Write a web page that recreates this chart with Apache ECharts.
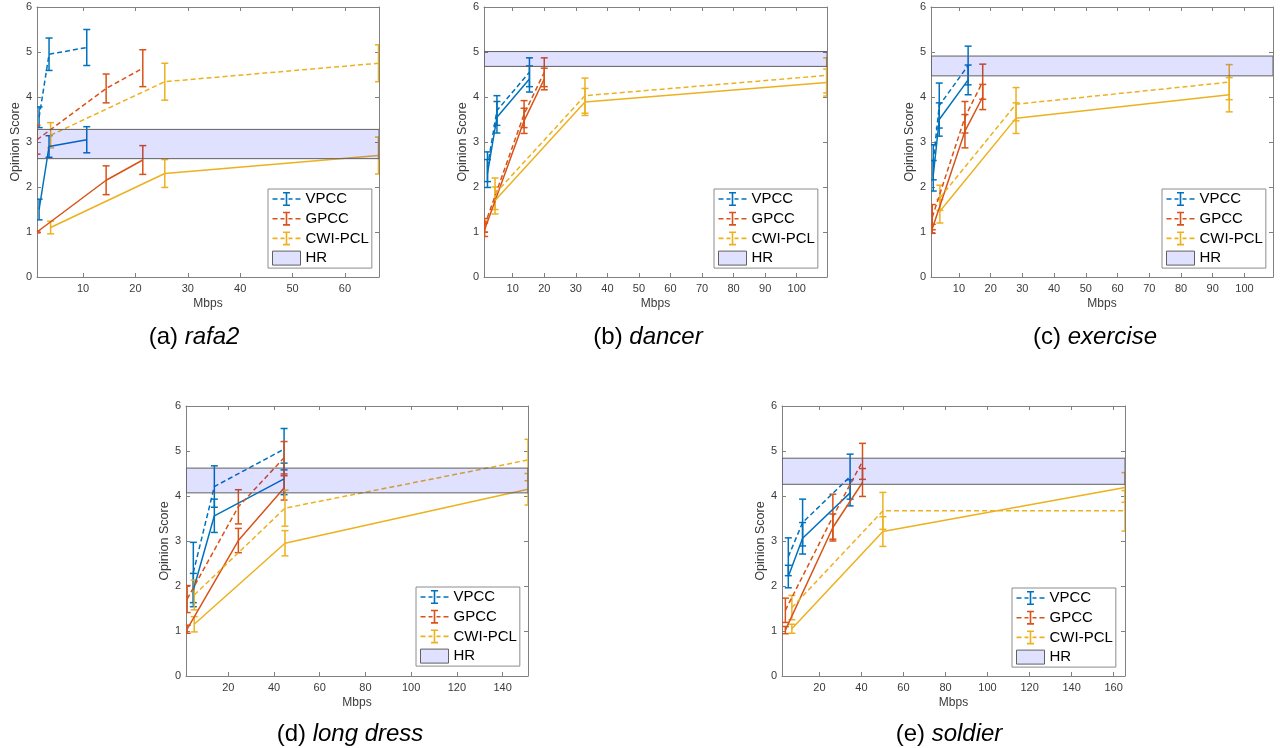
<!DOCTYPE html>
<html><head><meta charset="utf-8">
<script src="https://cdn.jsdelivr.net/npm/echarts@6/dist/echarts.min.js"></script>
<style>html,body{margin:0;padding:0;background:#fff}#c{width:1283px;height:748px}</style>
</head><body><div id="c"></div>
<script>
// ---------------- DATA ----------------
const codecNames = ['VPCC', 'GPCC', 'CWI-PCL'];
const yTicks = [0, 1, 2, 3, 4, 5, 6];

// (a) rafa2  — rows: VPCC, GPCC, CWI-PCL
const rafa2X = [[1.6, 3.5, 10.7], [1.2, 14.4, 21.4], [3.8, 25.6, 66.4]];
const rafa2Dashed = [[3.55, 4.95, 5.10], [3.05, 4.19, 4.64], [3.15, 4.34, 4.75]];
const rafa2DashedErr = [[0.23, 0.36, 0.40], [0.32, 0.32, 0.41], [0.28, 0.41, 0.41]];
const rafa2Solid = [[1.50, 2.90, 3.05], [1.00, 2.15, 2.60], [1.10, 2.30, 2.70]];
const rafa2SolidErr = [[0.23, 0.24, 0.29], [0.02, 0.32, 0.32], [0.14, 0.31, 0.41]];
const rafa2HR = [2.63, 3.28];
const rafa2XRange = [1.2, 66.5];
const rafa2XTicks = [10, 20, 30, 40, 50, 60];

// (b) dancer
const dancerX = [[2.0, 5.0, 15.3], [1.1, 13.6, 20.0], [4.4, 32.9, 109.5]];
const dancerDashed = [[2.45, 3.70, 4.55], [1.15, 3.62, 4.55], [1.85, 4.03, 4.48]];
const dancerDashedErr = [[0.33, 0.33, 0.32], [0.15, 0.30, 0.32], [0.35, 0.39, 0.39]];
const dancerSolid = [[2.30, 3.55, 4.40], [1.05, 3.47, 4.40], [1.70, 3.89, 4.32]];
const dancerSolidErr = [[0.31, 0.35, 0.29], [0.15, 0.28, 0.24], [0.30, 0.30, 0.30]];
const dancerHR = [4.68, 5.01];
const dancerXRange = [0.9, 109.6];
const dancerXTicks = [10, 20, 30, 40, 50, 60, 70, 80, 90, 100];

// (c) exercise
const exerciseX = [[1.9, 3.8, 12.9], [1.6, 11.9, 17.5], [4.0, 28.0, 95.2]];
const exerciseDashed = [[2.55, 3.81, 4.70], [1.33, 3.55, 4.34], [1.76, 3.84, 4.33]];
const exerciseDashedErr = [[0.39, 0.50, 0.43], [0.28, 0.35, 0.39], [0.28, 0.37, 0.39]];
const exerciseSolid = [[2.25, 3.50, 4.38], [1.07, 3.24, 4.00], [1.46, 3.53, 4.05]];
const exerciseSolidErr = [[0.34, 0.37, 0.33], [0.10, 0.37, 0.28], [0.26, 0.34, 0.38]];
const exerciseHR = [4.47, 4.91];
const exerciseXRange = [1.2, 109.0];
const exerciseXTicks = [10, 20, 30, 40, 50, 60, 70, 80, 90, 100];

// (d) long dress
const longdressX = [[4.7, 13.9, 44.4], [2.0, 24.4, 44.4], [5.1, 44.8, 151.1]];
const longdressDashed = [[2.30, 4.21, 5.04], [1.71, 3.76, 4.85], [1.80, 3.73, 4.80]];
const longdressDashedErr = [[0.67, 0.46, 0.46], [0.30, 0.38, 0.36], [0.33, 0.40, 0.46]];
const longdressSolid = [[1.91, 3.56, 4.38], [1.04, 3.01, 4.18], [1.15, 2.95, 4.15]];
const longdressSolidErr = [[0.37, 0.37, 0.35], [0.09, 0.27, 0.27], [0.17, 0.28, 0.35]];
const longdressHR = [4.07, 4.62];
const longdressXRange = [1.5, 151.1];
const longdressXTicks = [20, 40, 60, 80, 100, 120, 140];

// (e) soldier
const soldierX = [[5.2, 12.0, 34.6], [3.8, 26.4, 40.5], [6.9, 50.2, 165.4]];
const soldierDashed = [[2.65, 3.41, 4.43], [1.46, 3.54, 4.77], [1.52, 3.67, 3.67]];
const soldierDashedErr = [[0.42, 0.52, 0.50], [0.27, 0.50, 0.40], [0.27, 0.41, 0.45]];
const soldierSolid = [[2.21, 3.06, 4.07], [1.02, 3.30, 4.30], [1.05, 3.21, 4.19]];
const soldierSolidErr = [[0.25, 0.35, 0.29], [0.08, 0.30, 0.31], [0.10, 0.33, 0.33]];
const soldierHR = [4.26, 4.84];
const soldierXRange = [2.2, 165.4];
const soldierXTicks = [20, 40, 60, 80, 100, 120, 140, 160];

// ---------------- LAYOUT / STYLE ----------------
const FONT = "'Liberation Sans', Arial, Helvetica, sans-serif";
const colors = ['#0072BD', '#D95319', '#EDB120'];
const AXIS_COLOR = '#808080';
const LABEL_COLOR = '#3a3a3a';
const LW = 1.5;

const panels = [
  { x: rafa2X, d: rafa2Dashed, de: rafa2DashedErr, s: rafa2Solid, se: rafa2SolidErr, hr: rafa2HR, xr: rafa2XRange, xt: rafa2XTicks,
    grid: { left: 37, top: 7, width: 342, height: 270 }, legend: { left: 268, top: 189 },
    cap: { x: 194, y: 337, tag: '(a) ', name: 'rafa2' } },
  { x: dancerX, d: dancerDashed, de: dancerDashedErr, s: dancerSolid, se: dancerSolidErr, hr: dancerHR, xr: dancerXRange, xt: dancerXTicks,
    grid: { left: 484, top: 7, width: 343, height: 270 }, legend: { left: 714, top: 189 },
    cap: { x: 648, y: 337, tag: '(b) ', name: 'dancer' } },
  { x: exerciseX, d: exerciseDashed, de: exerciseDashedErr, s: exerciseSolid, se: exerciseSolidErr, hr: exerciseHR, xr: exerciseXRange, xt: exerciseXTicks,
    grid: { left: 931, top: 7, width: 342, height: 270 }, legend: { left: 1162, top: 189 },
    cap: { x: 1095, y: 337, tag: '(c) ', name: 'exercise' } },
  { x: longdressX, d: longdressDashed, de: longdressDashedErr, s: longdressSolid, se: longdressSolidErr, hr: longdressHR, xr: longdressXRange, xt: longdressXTicks,
    grid: { left: 186, top: 406, width: 342, height: 270 }, legend: { left: 416, top: 587 },
    cap: { x: 350, y: 734, tag: '(d) ', name: 'long dress' } },
  { x: soldierX, d: soldierDashed, de: soldierDashedErr, s: soldierSolid, se: soldierSolidErr, hr: soldierHR, xr: soldierXRange, xt: soldierXTicks,
    grid: { left: 782, top: 406, width: 343, height: 270 }, legend: { left: 1012, top: 588 },
    cap: { x: 949, y: 734, tag: '(e) ', name: 'soldier' } }
];

const errIcon = 'path://M0 6.2h5v1.6h-5z M8 6.2h4v1.6h-4z M16 6.2h4v1.6h-4z M23 6.2h5v1.6h-5z M13.2 0h1.6v14h-1.6z M10.5 0h7v1.6h-7z M10.5 12.4h7v1.6h-7z';

function errRender(color) {
  return function (params, api) {
    const x = api.value(0), y = api.value(1), e = api.value(2);
    const top = api.coord([x, y + e]);
    const bot = api.coord([x, y - e]);
    const cx = top[0], w = 3.5;
    const st = { stroke: color, lineWidth: LW, fill: null };
    return { type: 'group', children: [
      { type: 'line', shape: { x1: cx, y1: top[1], x2: cx, y2: bot[1] }, style: st },
      { type: 'line', shape: { x1: cx - w, y1: top[1], x2: cx + w, y2: top[1] }, style: st },
      { type: 'line', shape: { x1: cx - w, y1: bot[1], x2: cx + w, y2: bot[1] }, style: st }
    ] };
  };
}

function hrRender(params, api) {
  const p1 = api.coord([api.value(0), api.value(3)]);
  const p2 = api.coord([api.value(1), api.value(2)]);
  return { type: 'rect', shape: { x: p1[0], y: p1[1], width: p2[0] - p1[0], height: p2[1] - p1[1] },
    style: { fill: 'rgba(0,0,255,0.12)', stroke: '#606060', lineWidth: 1 } };
}

const grids = [], xAxes = [], yAxes = [], series = [], legends = [], graphics = [];

panels.forEach((p, gi) => {
  grids.push(Object.assign({ show: false }, p.grid));
  const tickStyle = { lineStyle: { color: AXIS_COLOR, width: 1 } };
  xAxes.push({ gridIndex: gi, type: 'value', min: p.xr[0], max: p.xr[1], position: 'bottom',
    axisLine: { show: true, onZero: false, lineStyle: { color: AXIS_COLOR, width: 1 } },
    axisTick: Object.assign({ show: true, inside: true, length: 4, customValues: p.xt }, tickStyle),
    axisLabel: { customValues: p.xt, color: LABEL_COLOR, fontSize: 11, margin: 6, fontFamily: FONT },
    splitLine: { show: false },
    name: 'Mbps', nameLocation: 'middle', nameGap: 21,
    nameTextStyle: { color: LABEL_COLOR, fontSize: 12, fontFamily: FONT } });
  xAxes.push({ gridIndex: gi, type: 'value', min: p.xr[0], max: p.xr[1], position: 'top',
    axisLine: { show: true, onZero: false, lineStyle: { color: AXIS_COLOR, width: 1 } },
    axisTick: Object.assign({ show: true, inside: true, length: 4, customValues: p.xt }, tickStyle),
    axisLabel: { show: false }, splitLine: { show: false } });
  yAxes.push({ gridIndex: gi, type: 'value', min: 0, max: 6, interval: 1, position: 'left',
    axisLine: { show: true, onZero: false, lineStyle: { color: AXIS_COLOR, width: 1 } },
    axisTick: Object.assign({ show: true, inside: true, length: 4 }, tickStyle),
    axisLabel: { color: LABEL_COLOR, fontSize: 11, margin: 5, fontFamily: FONT },
    splitLine: { show: false },
    name: 'Opinion Score', nameLocation: 'middle', nameGap: 14,
    nameTextStyle: { color: LABEL_COLOR, fontSize: 12.5, fontFamily: FONT } });
  yAxes.push({ gridIndex: gi, type: 'value', min: 0, max: 6, interval: 1, position: 'right',
    axisLine: { show: true, onZero: false, lineStyle: { color: AXIS_COLOR, width: 1 } },
    axisTick: Object.assign({ show: true, inside: true, length: 4 }, tickStyle),
    axisLabel: { show: false }, splitLine: { show: false } });

  const xi = gi * 2, yi = gi * 2;
  for (let c = 0; c < 3; c++) {
    const xs = p.x[c];
    [['d', 'de', [5, 3]], ['s', 'se', 'solid']].forEach(([k, ke, type]) => {
      const ys = p[k][c], es = p[ke][c];
      series.push({ type: 'line', name: codecNames[c], xAxisIndex: xi, yAxisIndex: yi,
        data: xs.map((v, i) => [v, ys[i]]), showSymbol: false, symbol: 'none', silent: true,
        lineStyle: { color: colors[c], width: LW, type: type }, itemStyle: { color: colors[c] },
        z: 2, animation: false });
      series.push({ type: 'custom', name: codecNames[c], xAxisIndex: xi, yAxisIndex: yi,
        data: xs.map((v, i) => [v, ys[i], es[i]]), encode: { x: 0, y: 1 },
        renderItem: errRender(colors[c]), clip: true, silent: true, z: 2,
        itemStyle: { color: colors[c] }, animation: false });
    });
  }
  series.push({ type: 'custom', name: 'HR', xAxisIndex: xi, yAxisIndex: yi,
    data: [[p.xr[0], p.xr[1], p.hr[0], p.hr[1]]], encode: { x: [0, 1], y: [2, 3] },
    renderItem: hrRender, clip: true, silent: true, z: 3, itemStyle: { color: '#e0e0ff' }, animation: false });

  legends.push({ left: p.legend.left, top: p.legend.top, orient: 'vertical', selectedMode: false,
    padding: [2, 3, 2, 4], itemGap: 3.7, itemWidth: 28, itemHeight: 14,
    backgroundColor: '#fff', borderColor: '#8c8c8c', borderWidth: 1, borderRadius: 0,
    textStyle: { fontSize: 15, color: '#000', lineHeight: 16, fontFamily: FONT },
    data: codecNames.map((n, c) => ({ name: n, icon: errIcon, itemStyle: { color: colors[c], borderWidth: 0 } }))
      .concat([{ name: 'HR', icon: 'rect', itemStyle: { color: '#e0e0ff', borderColor: '#606060', borderWidth: 1 } }]) });

  graphics.push({ type: 'text', x: p.cap.x, y: p.cap.y, silent: true,
    style: { text: '{n|' + p.cap.tag + '}{i|' + p.cap.name + '}', align: 'center', verticalAlign: 'middle',
      rich: { n: { fontSize: 24, fontFamily: FONT, fill: '#000', fontStyle: 'normal' },
              i: { fontSize: 24, fontFamily: FONT, fill: '#000', fontStyle: 'italic' } } } });
});

const chart = echarts.init(document.getElementById('c'), null, { renderer: 'canvas' });
chart.setOption({
  backgroundColor: '#fff',
  animation: false,
  grid: grids, xAxis: xAxes, yAxis: yAxes, series: series, legend: legends, graphic: graphics
});
</script></body></html>
